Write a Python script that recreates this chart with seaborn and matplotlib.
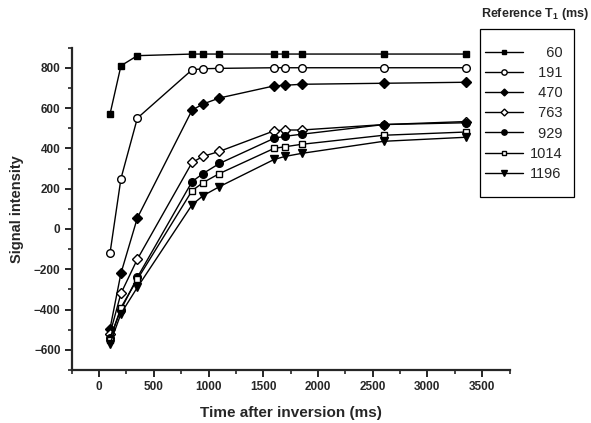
import matplotlib
matplotlib.use("Agg")
import matplotlib.pyplot as plt
from matplotlib.patches import Rectangle
from matplotlib.ticker import MultipleLocator
import seaborn as sns
import pandas as pd

# ---- data ----
time_ms = [100, 200, 350, 850, 950, 1100, 1600, 1700, 1850, 2600, 3350]
t1_labels = ["60", "191", "470", "763", "929", "1014", "1196"]
s60 = [570, 810, 860, 868, 868, 868, 868, 868, 868, 868, 868]
s191 = [-120, 250, 550, 790, 795, 797, 800, 800, 800, 800, 800]
s470 = [-495, -220, 55, 590, 620, 650, 710, 713, 718, 723, 728]
s763 = [-520, -320, -150, 330, 360, 385, 487, 491, 491, 518, 533]
s929 = [-540, -400, -240, 235, 275, 325, 450, 460, 470, 518, 527]
s1014 = [-550, -390, -250, 190, 230, 275, 400, 408, 420, 465, 481]
s1196 = [-570, -420, -290, 120, 165, 210, 345, 360, 375, 435, 455]
series = [s60, s191, s470, s763, s929, s1014, s1196]

markers = ["s", "o", "D", "D", "o", "s", "v"]
filled = [True, False, True, False, True, False, True]
msizes = [5, 5.5, 5, 5, 5.5, 4.5, 5.5]

sns.set_style("ticks")
plt.rcParams["font.family"] = ["Liberation Sans", "DejaVu Sans"]
plt.rcParams["mathtext.fontset"] = "custom"
plt.rcParams["mathtext.rm"] = "Liberation Sans"
plt.rcParams["mathtext.bf"] = "Liberation Sans:bold"

fig = plt.figure(figsize=(5.91, 4.23), dpi=100)
W, H = 591, 423
left, right, top, bottom = 71.7, 509.5, 47.6, 370
ax = fig.add_axes([left / W, 1 - bottom / H, (right - left) / W, (bottom - top) / H])

for lab, vals, m, f, ms in zip(t1_labels, series, markers, filled, msizes):
    df = pd.DataFrame({"t": time_ms, "v": vals})
    sns.lineplot(data=df, x="t", y="v", ax=ax, color="black", lw=1.0,
                 marker=m, markersize=ms, markeredgewidth=1.0,
                 markerfacecolor="black" if f else "white",
                 markeredgecolor="black", label=lab.rjust(4, "\u2007"),
                 legend=False)

ax.set_xlim(-250, 3750)
ax.set_ylim(-700, 900)
ax.xaxis.set_major_locator(MultipleLocator(500))
ax.xaxis.set_minor_locator(MultipleLocator(250))
ax.yaxis.set_major_locator(MultipleLocator(200))
ax.yaxis.set_minor_locator(MultipleLocator(100))
sns.despine(ax=ax)
for sp in ["left", "bottom"]:
    ax.spines[sp].set_linewidth(1.6)
ax.tick_params(which="major", direction="out", length=5, width=1.4,
               labelsize=8.5, pad=3)
ax.tick_params(which="minor", direction="out", length=3, width=1.2)
ax.set_xticks([0, 500, 1000, 1500, 2000, 2500, 3000, 3500])
ax.set_yticks([-600, -400, -200, 0, 200, 400, 600, 800])
for t in ax.get_xticklabels() + ax.get_yticklabels():
    t.set_fontweight("bold")
ax.set_xlabel("Time after inversion (ms)", fontsize=11, fontweight="bold", labelpad=9)
ax.set_ylabel("Signal intensity", fontsize=10.5, fontweight="bold", labelpad=7)

# legend
handles, labels = ax.get_legend_handles_labels()
leg = fig.legend(handles, labels, loc="upper left",
                 bbox_to_anchor=(485 / W, 1 - 46 / H), frameon=False,
                 fontsize=10.5, handlelength=2.6, handletextpad=0.5,
                 labelspacing=0.42, borderpad=0, borderaxespad=0,
                 markerscale=0.7)
for h in leg.legend_handles:
    h.set_linewidth(1.0)
fig.patches.append(Rectangle((480 / W, 1 - 197 / H), 94 / W, 168 / H,
                             transform=fig.transFigure, fill=False,
                             edgecolor="black", lw=0.9))
fig.text(535 / W, 1 - 14 / H, r"Reference T$_\mathbf{1}$ (ms)", ha="center",
         va="center", fontsize=9, fontweight="bold")

fig.savefig("out.png", dpi=100, facecolor="white")
